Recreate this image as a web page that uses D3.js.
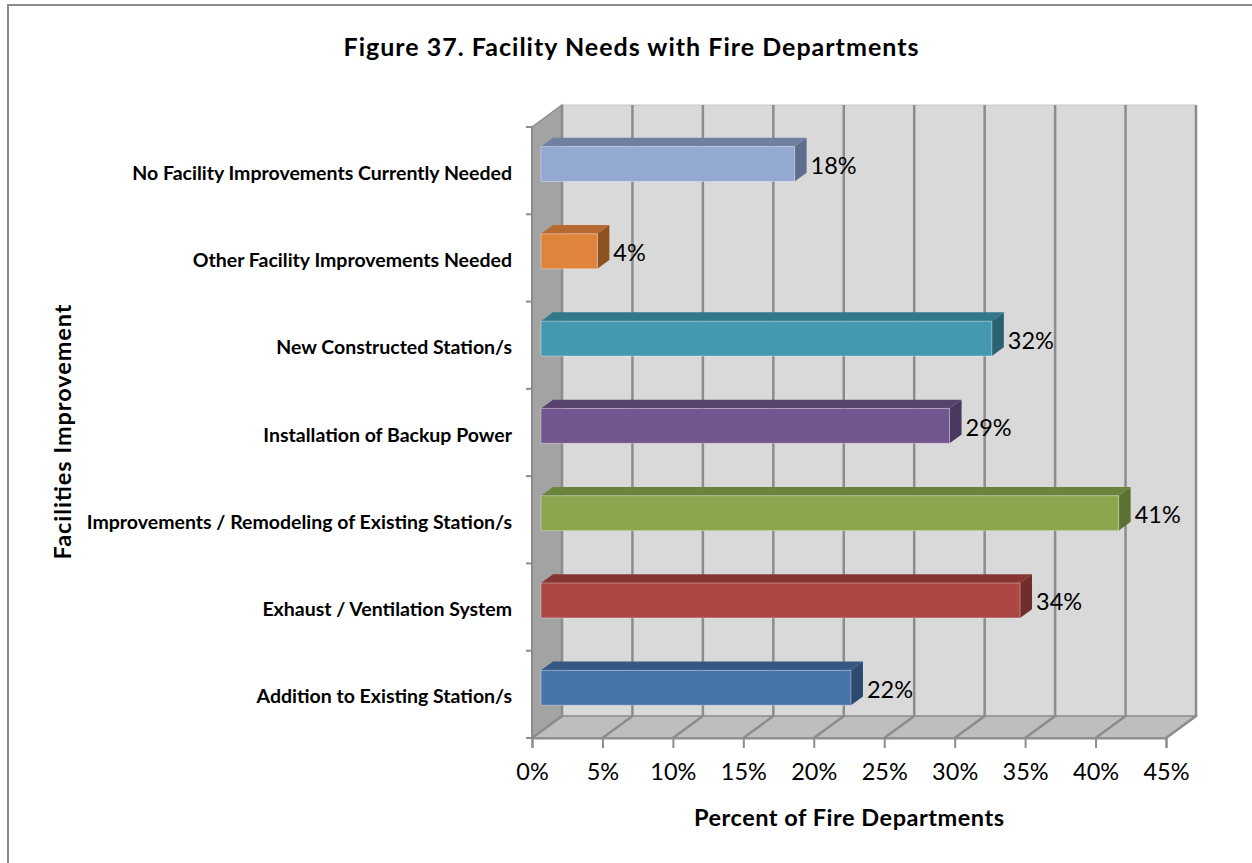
<!DOCTYPE html>
<html>
<head>
<meta charset="utf-8">
<script src="https://cdn.jsdelivr.net/npm/d3@7/dist/d3.min.js"></script>
<style>
  html, body { margin: 0; padding: 0; background: #ffffff; }
  svg { display: block; }
  text { font-family: Lato, "Open Sans", "DejaVu Sans", sans-serif; fill: #000; }
</style>
</head>
<body>
<svg id="chart" width="1252" height="863"></svg>
<script>
// Facility needs reported by fire departments (percent of departments)
const categories = [
  "No Facility Improvements Currently Needed",
  "Other Facility Improvements Needed",
  "New Constructed Station/s",
  "Installation of Backup Power",
  "Improvements / Remodeling of Existing Station/s",
  "Exhaust / Ventilation System",
  "Addition to Existing Station/s"
];
const values = [18, 4, 32, 29, 41, 34, 22];
const xTicks = [0, 5, 10, 15, 20, 25, 30, 35, 40, 45];

// Face colours per bar: front, top, end
const frontColors = ["#94a9d2", "#e0833b", "#4299b0", "#71578f", "#8aa74e", "#ad4744", "#4673a8"];
const topColors   = ["#6f80a0", "#b66a30", "#30788a", "#58436f", "#6b843b", "#873533", "#345881"];
const sideColors  = ["#5e6e8e", "#8e5221", "#2a6272", "#4a385f", "#5c7232", "#712d2b", "#2c4a6e"];

const svg = d3.select("#chart");

// Outer frame
svg.append("path")
  .attr("d", "M8,870 L8,5 L1260,5")
  .attr("fill", "none").attr("stroke", "#8a8a8a").attr("stroke-width", 2);

// Front plane of the 3D plot box, and the depth offset of its back plane
const ox = 532, oy = 127, plotW = 634, plotH = 611;
const depth = { dx: 30, dy: -22 };

const x = d3.scaleLinear().domain([0, 45]).range([0, plotW]);
const y = d3.scaleBand().domain(categories).range([0, plotH])
  .paddingInner(0.6).paddingOuter(0.3);

// Project (value, vertical offset in plot, depth fraction) into screen space
function P(v, yy, d) {
  return [ox + x(v) + depth.dx * d, oy + yy + depth.dy * d];
}
const poly = pts => "M" + pts.map(p => p.join(",")).join("L") + "Z";

const gridColor = "#8c8c8c";

// Back wall
svg.append("path")
  .attr("d", poly([P(0, 0, 1), P(45, 0, 1), P(45, plotH, 1), P(0, plotH, 1)]))
  .attr("fill", "#d9d9d9").attr("stroke", "#c8c8c8").attr("stroke-width", 1);

// Left side wall
svg.append("path")
  .attr("d", poly([P(0, 0, 0), P(0, 0, 1), P(0, plotH, 1), P(0, plotH, 0)]))
  .attr("fill", "#a3a3a3").attr("stroke", gridColor).attr("stroke-width", 1.5);

// Floor
svg.append("path")
  .attr("d", poly([P(0, plotH, 0), P(0, plotH, 1), P(45, plotH, 1), P(45, plotH, 0)]))
  .attr("fill", "#bebebe").attr("stroke", gridColor).attr("stroke-width", 1.5);

// Gridlines on the back wall and across the floor
svg.append("g").selectAll("path").data(xTicks).join("path")
  .attr("d", t => {
    const a = P(t, 0, 1), b = P(t, plotH, 1), c = P(t, plotH, 0);
    return "M" + a + "L" + b + "L" + c;
  })
  .attr("fill", "none").attr("stroke", gridColor).attr("stroke-width", 2.5);

// Left wall front edge (category axis line) with ticks at band boundaries
svg.append("line")
  .attr("x1", ox).attr("y1", oy).attr("x2", ox).attr("y2", oy + plotH)
  .attr("stroke", gridColor).attr("stroke-width", 2);
svg.append("g").selectAll("line").data(d3.range(categories.length + 1)).join("line")
  .attr("x1", ox - 6).attr("x2", ox)
  .attr("y1", i => oy + i * y.step()).attr("y2", i => oy + i * y.step())
  .attr("stroke", gridColor).attr("stroke-width", 2);

// Value axis along the front edge of the floor
const xAxis = svg.append("g")
  .attr("transform", `translate(${ox},${oy + plotH})`)
  .call(d3.axisBottom(x).tickValues(xTicks).tickFormat(d => d + "%").tickSize(10).tickPadding(15));
xAxis.select(".domain").attr("stroke", gridColor).attr("stroke-width", 2);
xAxis.selectAll(".tick line").attr("stroke", gridColor).attr("stroke-width", 2);
xAxis.selectAll(".tick text")
  .style("font-family", "Lato, 'Open Sans', sans-serif")
  .style("font-size", "23.5px").attr("fill", "#1a1a1a");

// 3D bars: front face sits at 30% depth, back at 70%
const d0 = 0.3, d1 = 0.7;
const bars = svg.append("g").selectAll("g").data(categories).join("g");

bars.append("path")  // top face
  .attr("d", (c, i) => {
    const t = y(c);
    return poly([P(0, t, d0), P(0, t, d1), P(values[i], t, d1), P(values[i], t, d0)]);
  })
  .attr("fill", (c, i) => topColors[i]);

bars.append("path")  // end face
  .attr("d", (c, i) => {
    const t = y(c), b = t + y.bandwidth(), v = values[i];
    return poly([P(v, t, d0), P(v, t, d1), P(v, b, d1), P(v, b, d0)]);
  })
  .attr("fill", (c, i) => sideColors[i]);

bars.append("path")  // front face
  .attr("d", (c, i) => {
    const t = y(c), b = t + y.bandwidth(), v = values[i];
    return poly([P(0, t, d0), P(v, t, d0), P(v, b, d0), P(0, b, d0)]);
  })
  .attr("fill", (c, i) => frontColors[i])
  .attr("stroke", "rgba(255,255,255,0.35)").attr("stroke-width", 1);

// Value labels next to the bar ends
bars.append("text")
  .attr("x", (c, i) => P(values[i], 0, d1)[0] + 4)
  .attr("y", (c, i) => P(0, y(c) + y.bandwidth() / 2, d0)[1] + 1)
  .attr("dominant-baseline", "central")
  .style("font-size", "23.5px").attr("fill", "#1a1a1a")
  .text((c, i) => values[i] + "%");

// Category labels
svg.append("g").selectAll("text").data(categories).join("text")
  .attr("x", 512)
  .attr("y", c => oy + y(c) + y.bandwidth() / 2 + 1.5)
  .attr("text-anchor", "end")
  .attr("dominant-baseline", "central")
  .style("font-size", "19.5px").style("font-weight", "bold")
  .text(c => c);

// Titles
svg.append("text")
  .attr("x", 631).attr("y", 46)
  .attr("text-anchor", "middle").attr("dominant-baseline", "central")
  .style("font-size", "25px").style("font-weight", "bold")
  .attr("textLength", 575).attr("lengthAdjust", "spacing")
  .text("Figure 37. Facility Needs with Fire Departments");

svg.append("text")
  .attr("x", 849).attr("y", 817)
  .attr("text-anchor", "middle").attr("dominant-baseline", "central")
  .style("font-size", "23.5px").style("font-weight", "bold")
  .attr("textLength", 310).attr("lengthAdjust", "spacing")
  .text("Percent of Fire Departments");

svg.append("text")
  .attr("transform", "translate(62,432) rotate(-90)")
  .attr("text-anchor", "middle").attr("dominant-baseline", "central")
  .style("font-size", "23.5px").style("font-weight", "bold")
  .attr("textLength", 255).attr("lengthAdjust", "spacing")
  .text("Facilities Improvement");
</script>
</body>
</html>
